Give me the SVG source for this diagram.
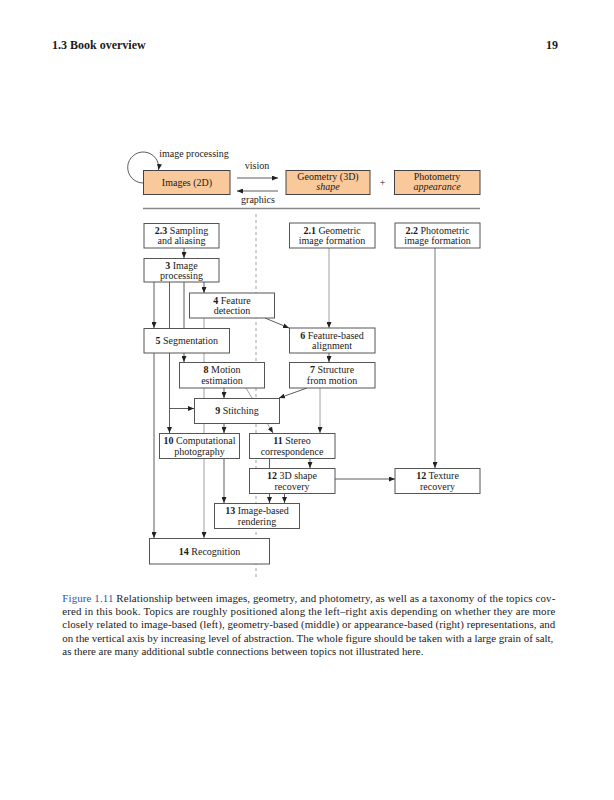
<svg xmlns="http://www.w3.org/2000/svg" width="614" height="800" viewBox="0 0 614 800">
<defs>
<marker id="ah" viewBox="0 0 6 5" refX="6" refY="2.5" markerWidth="6" markerHeight="5" markerUnits="userSpaceOnUse" orient="auto">
<path d="M0,0 L6,2.5 L0,5 z" fill="#222"/>
</marker>
<style>
text{font-family:"Liberation Serif","Times New Roman",serif;fill:#1a1a1a}
.t{font-size:10px;text-anchor:middle}
.b{font-weight:bold}
.box{fill:#fff;stroke:#555;stroke-width:1}
.or{fill:#F9C99B;stroke:#444;stroke-width:1}
.ln{fill:none;stroke:#333;stroke-width:0.8}
.gl{fill:none;stroke:#888;stroke-width:0.8}
.hd{font-size:12px;font-weight:bold}
.cap{font-size:10.9px}
</style>
</defs>
<rect width="614" height="800" fill="#fff"/>
<text class="hd" x="52" y="49">1.3  Book overview</text>
<text class="hd" x="558" y="49" text-anchor="end">19</text>

<g id="separator">
<line x1="143" y1="208.5" x2="480" y2="208.5" stroke="#888" stroke-width="1.3"/>
<line x1="256" y1="214" x2="256" y2="578" stroke="#888" stroke-width="0.8" stroke-dasharray="3,3"/>
</g>

<g id="connectors">
<path class="ln" d="M143,183 A15.5,15.5 0 1 1 158.5,170" marker-end="url(#ah)"/>
<line class="ln" x1="237" y1="178" x2="278" y2="178" marker-end="url(#ah)"/>
<line class="ln" x1="278" y1="191" x2="237" y2="191" marker-end="url(#ah)"/>
<line class="ln" x1="184" y1="248" x2="184" y2="258" marker-end="url(#ah)"/>
<line class="ln" x1="204" y1="282" x2="204" y2="293" marker-end="url(#ah)"/>
<line class="ln" x1="154" y1="282" x2="154" y2="328" marker-end="url(#ah)"/>
<line class="ln" x1="154" y1="353" x2="154" y2="538" marker-end="url(#ah)"/>
<line class="ln" x1="169.5" y1="282" x2="169.5" y2="433" marker-end="url(#ah)"/>
<line class="ln" x1="169.5" y1="408.5" x2="194" y2="408.5" marker-end="url(#ah)"/>
<line class="ln" x1="184" y1="282" x2="184" y2="362" marker-end="url(#ah)"/>
<line class="gl" x1="204" y1="318" x2="204" y2="538" marker-end="url(#ah)"/>
<line class="ln" x1="265" y1="318" x2="289" y2="328" marker-end="url(#ah)"/>
<line class="gl" x1="329" y1="248" x2="329" y2="328" marker-end="url(#ah)"/>
<line class="ln" x1="329" y1="353" x2="329" y2="362" marker-end="url(#ah)"/>
<line class="ln" x1="224" y1="388" x2="224" y2="398" marker-end="url(#ah)"/>
<line class="gl" x1="246" y1="388" x2="273" y2="433" marker-end="url(#ah)"/>
<line class="ln" x1="307" y1="388" x2="279" y2="398" marker-end="url(#ah)"/>
<line class="gl" x1="320" y1="388" x2="320" y2="433" marker-end="url(#ah)"/>
<line class="ln" x1="224" y1="423" x2="224" y2="433" marker-end="url(#ah)"/>
<line class="ln" x1="224" y1="458" x2="224" y2="503" marker-end="url(#ah)"/>
<line class="ln" x1="310" y1="458" x2="310" y2="468" marker-end="url(#ah)"/>
<line class="ln" x1="269.5" y1="458" x2="269.5" y2="503" marker-end="url(#ah)"/>
<line class="ln" x1="284.5" y1="493" x2="284.5" y2="503" marker-end="url(#ah)"/>
<line class="ln" x1="335" y1="479" x2="395" y2="479" marker-end="url(#ah)"/>
<line fill="none" stroke="#bbb" stroke-width="2" x1="435" y1="248" x2="435" y2="463"/>
<line class="ln" x1="435" y1="462" x2="435" y2="468" marker-end="url(#ah)"/>
</g>

<g id="images">
<rect class="or" x="143.5" y="170.5" width="86.5" height="24"/>
<text class="t" x="187" y="186">Images (2D)</text>
<text class="t" x="194" y="157">image processing</text>
<text class="t" x="257" y="169">vision</text>
<text class="t" x="258" y="203">graphics</text>
</g>
<g id="geometry">
<rect class="or" x="286" y="170.5" width="84" height="24"/>
<text class="t" x="328" y="180">Geometry (3D)</text>
<text class="t" x="328" y="190" font-style="italic">shape</text>
</g>
<text class="t" x="382.5" y="186">+</text>
<g id="photometry">
<rect class="or" x="394.5" y="170.5" width="85.5" height="24"/>
<text class="t" x="437" y="180">Photometry</text>
<text class="t" x="437" y="190" font-style="italic">appearance</text>
</g>

<g id="n23">
<rect class="box" x="144" y="223.5" width="75" height="24.5"/>
<text class="t" x="181.5" y="233.5"><tspan class="b">2.3</tspan> Sampling</text>
<text class="t" x="181.5" y="244">and aliasing</text>
</g>
<g id="n21">
<rect class="box" x="289.5" y="223" width="85.5" height="25"/>
<text class="t" x="332" y="233.5"><tspan class="b">2.1</tspan> Geometric</text>
<text class="t" x="332" y="244">image formation</text>
</g>
<g id="n22">
<rect class="box" x="395" y="223" width="85" height="25"/>
<text class="t" x="437.5" y="233.5"><tspan class="b">2.2</tspan> Photometric</text>
<text class="t" x="437.5" y="244">image formation</text>
</g>
<g id="n3">
<rect class="box" x="144" y="258.5" width="75" height="23.5"/>
<text class="t" x="181.5" y="268.5"><tspan class="b">3</tspan> Image</text>
<text class="t" x="181.5" y="279">processing</text>
</g>
<g id="n4">
<rect class="box" x="189.5" y="293" width="85" height="25"/>
<text class="t" x="232" y="303.5"><tspan class="b">4</tspan> Feature</text>
<text class="t" x="232" y="314">detection</text>
</g>
<g id="n5">
<rect class="box" x="144" y="328.5" width="85.5" height="24.5"/>
<text class="t" x="186.7" y="344"><tspan class="b">5</tspan> Segmentation</text>
</g>
<g id="n6">
<rect class="box" x="289.5" y="328" width="85.5" height="25"/>
<text class="t" x="332" y="338.5"><tspan class="b">6</tspan> Feature-based</text>
<text class="t" x="332" y="349">alignment</text>
</g>
<g id="n8">
<rect class="box" x="179.5" y="362.5" width="85" height="25.5"/>
<text class="t" x="222" y="373"><tspan class="b">8</tspan> Motion</text>
<text class="t" x="222" y="384">estimation</text>
</g>
<g id="n7">
<rect class="box" x="289.5" y="362.5" width="85.5" height="25.5"/>
<text class="t" x="332" y="373"><tspan class="b">7</tspan> Structure</text>
<text class="t" x="332" y="384">from motion</text>
</g>
<g id="n9">
<rect class="box" x="194.5" y="398.5" width="85" height="25"/>
<text class="t" x="237" y="414"><tspan class="b">9</tspan> Stitching</text>
</g>
<g id="n10">
<rect class="box" x="159.5" y="433.5" width="80" height="25"/>
<text class="t" x="199.5" y="444"><tspan class="b">10</tspan> Computational</text>
<text class="t" x="199.5" y="455">photography</text>
</g>
<g id="n11">
<rect class="box" x="249.5" y="433.5" width="85.5" height="25"/>
<text class="t" x="292" y="444"><tspan class="b">11</tspan> Stereo</text>
<text class="t" x="292" y="455">correspondence</text>
</g>
<g id="n12s">
<rect class="box" x="249.5" y="468.5" width="85.5" height="25"/>
<text class="t" x="292" y="479"><tspan class="b">12</tspan> 3D shape</text>
<text class="t" x="292" y="490">recovery</text>
</g>
<g id="n12t">
<rect class="box" x="395" y="468.5" width="85" height="25"/>
<text class="t" x="437.5" y="479"><tspan class="b">12</tspan> Texture</text>
<text class="t" x="437.5" y="490">recovery</text>
</g>
<g id="n13">
<rect class="box" x="214.5" y="503.5" width="85" height="25"/>
<text class="t" x="257" y="514"><tspan class="b">13</tspan> Image-based</text>
<text class="t" x="257" y="525">rendering</text>
</g>
<g id="n14">
<rect class="box" x="149.5" y="538.5" width="120" height="25.5"/>
<text class="t" x="209.5" y="554.5"><tspan class="b">14</tspan> Recognition</text>
</g>

<g id="caption" class="cap">
<text x="62.3" y="601.5" textLength="493" lengthAdjust="spacing"><tspan fill="#2856A8">Figure 1.11</tspan>   Relationship between images, geometry, and photometry, as well as a taxonomy of the topics cov-</text>
<text x="62.3" y="614.9" textLength="493" lengthAdjust="spacing">ered in this book.  Topics are roughly positioned along the left–right axis depending on whether they are more</text>
<text x="62.3" y="628.3" textLength="493" lengthAdjust="spacing">closely related to image-based (left), geometry-based (middle) or appearance-based (right) representations, and</text>
<text x="62.3" y="641.7" textLength="491" lengthAdjust="spacing">on the vertical axis by increasing level of abstraction. The whole figure should be taken with a large grain of salt,</text>
<text x="62.3" y="655.1">as there are many additional subtle connections between topics not illustrated here.</text>
</g>
</svg>
